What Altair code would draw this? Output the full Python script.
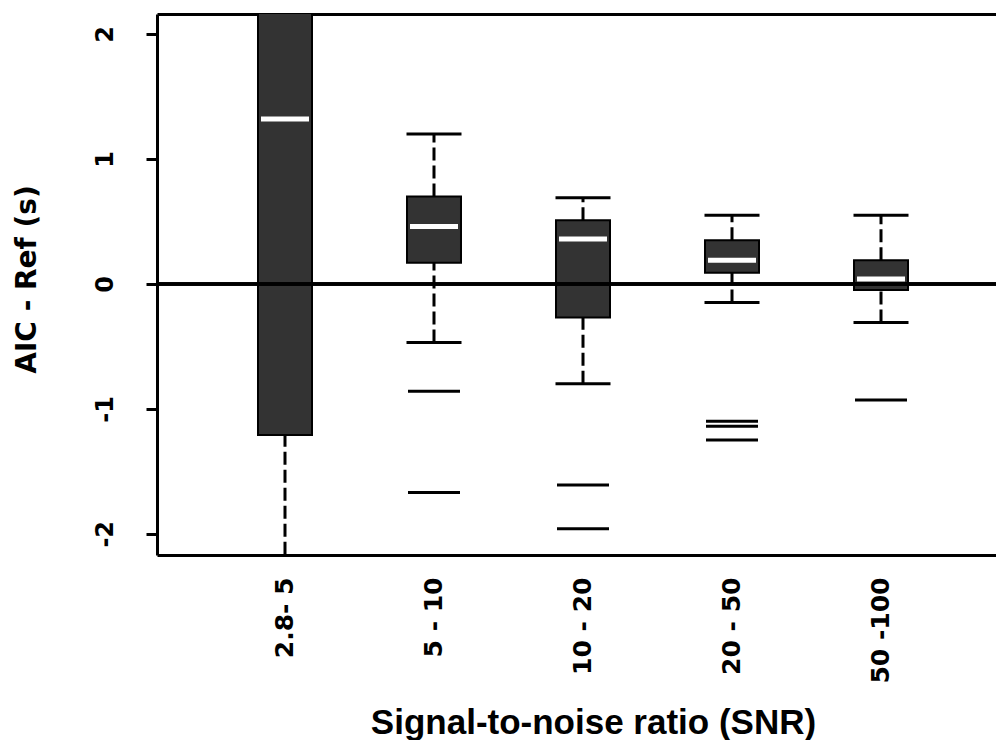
import altair as alt
import pandas as pd

# ---- data ----
categories = ["2.8- 5", "5 - 10", "10 - 20", "20 - 50", "50 -100"]
whisker_low = [-2.6, -0.47, -0.80, -0.15, -0.31]
q1 = [-1.21, 0.17, -0.27, 0.09, -0.05]
median = [1.32, 0.46, 0.36, 0.19, 0.04]
q3 = [2.6, 0.70, 0.51, 0.35, 0.19]
whisker_high = [3.0, 1.20, 0.69, 0.55, 0.55]

outlier_cat = ["5 - 10", "5 - 10", "10 - 20", "10 - 20",
               "20 - 50", "20 - 50", "20 - 50", "50 -100"]
outlier_val = [-0.86, -1.67, -1.61, -1.96,
               -1.10, -1.14, -1.25, -0.93]

y_ticks = [-2, -1, 0, 1, 2]

boxes = pd.DataFrame({
    "cat": categories, "lo": whisker_low, "q1": q1,
    "med": median, "q3": q3, "hi": whisker_high,
})
whisk = pd.concat([
    pd.DataFrame({"cat": categories, "a": whisker_low, "b": q1}),
    pd.DataFrame({"cat": categories, "a": q3, "b": whisker_high}),
])
caps = pd.concat([
    pd.DataFrame({"cat": categories, "v": whisker_low}),
    pd.DataFrame({"cat": categories, "v": whisker_high}),
])
outl = pd.DataFrame({"cat": outlier_cat, "v": outlier_val})

W, H = 839, 541
xscale = alt.Scale(domain=categories, paddingInner=0.6376,
                   paddingOuter=0.6342, align=0.5344)
yscale = alt.Scale(domain=[-2.17, 2.16], nice=False, zero=False)

x_main = alt.X("cat:N", scale=xscale, sort=categories, axis=alt.Axis(
    orient="bottom", title="Signal-to-noise ratio (SNR)",
    labelAngle=270, labelAlign="right", labelBaseline="middle",
    labelPadding=22, ticks=False, tickSize=0,
    labelFont="DejaVu Sans", labelFontWeight="bold", labelFontSize=25,
    labelColor="black", labelOverlap=False, labelFlush=False,
    domain=True, domainColor="black", domainWidth=3,
    titleFont="Liberation Sans", titleFontWeight="bold", titleFontSize=35,
    titleColor="black", titleX=436, titleY=178, titleAlign="center",
    titleBaseline="alphabetic", titleAnchor="start", grid=False))
x_none = alt.X("cat:N", scale=xscale, sort=categories, axis=None)
x_top = alt.X("cat:N", scale=xscale, sort=categories, axis=alt.Axis(
    orient="top", labels=False, ticks=False, tickSize=0, title=None,
    domain=True, domainColor="black", domainWidth=3, grid=False))

y_axis = alt.Axis(
    values=y_ticks, title="AIC - Ref (s)", grid=False,
    labelExpr="'' + datum.value",
    labelAngle=270, labelAlign="center", labelBaseline="alphabetic",
    labelPadding=34, tickSize=11, tickWidth=3, tickColor="black",
    labelFont="DejaVu Sans", labelFontWeight="bold", labelFontSize=24,
    labelColor="black", domain=True, domainColor="black", domainWidth=3,
    titleFont="DejaVu Sans", titleFontWeight="bold", titleFontSize=28,
    titleColor="black", titleAngle=270, titleX=-122, titleY=265,
    titleAlign="center", titleBaseline="alphabetic", titleAnchor="start")

whiskers = alt.Chart(whisk).mark_rule(
    color="black", strokeWidth=3, strokeDash=[13, 5], clip=True
).encode(x=x_main, y=alt.Y("a:Q", scale=yscale, axis=y_axis), y2="b:Q")

cap_marks = alt.Chart(caps).mark_tick(
    color="black", thickness=3, size=55, clip=True, opacity=1
).encode(x=x_none, y=alt.Y("v:Q", scale=yscale))

box_marks = alt.Chart(boxes).mark_bar(
    fill="#333333", stroke="black", strokeWidth=2, clip=True
).encode(x=x_none, y=alt.Y("q1:Q", scale=yscale), y2="q3:Q")

zero_line = alt.Chart(boxes).mark_rule(
    color="black", strokeWidth=3
).encode(y=alt.datum(0, scale=yscale))

med_marks = alt.Chart(boxes).mark_tick(
    color="white", thickness=5, size=48, clip=True, opacity=1
).encode(x=x_none, y=alt.Y("med:Q", scale=yscale))

out_marks = alt.Chart(outl).mark_tick(
    color="black", thickness=3, size=52, clip=True, opacity=1
).encode(x=x_top, y=alt.Y("v:Q", scale=yscale))

chart = alt.layer(
    whiskers, cap_marks, box_marks, zero_line, med_marks, out_marks
).resolve_axis(x="independent").properties(
    width=W, height=H,
    autosize=alt.AutoSizeParams(type="none"),
    padding={"left": 157, "top": 14, "right": 0, "bottom": 185},
    background="white",
).configure_view(strokeWidth=0)

chart.save("out.html", embed_options={"renderer": "svg", "actions": False})
